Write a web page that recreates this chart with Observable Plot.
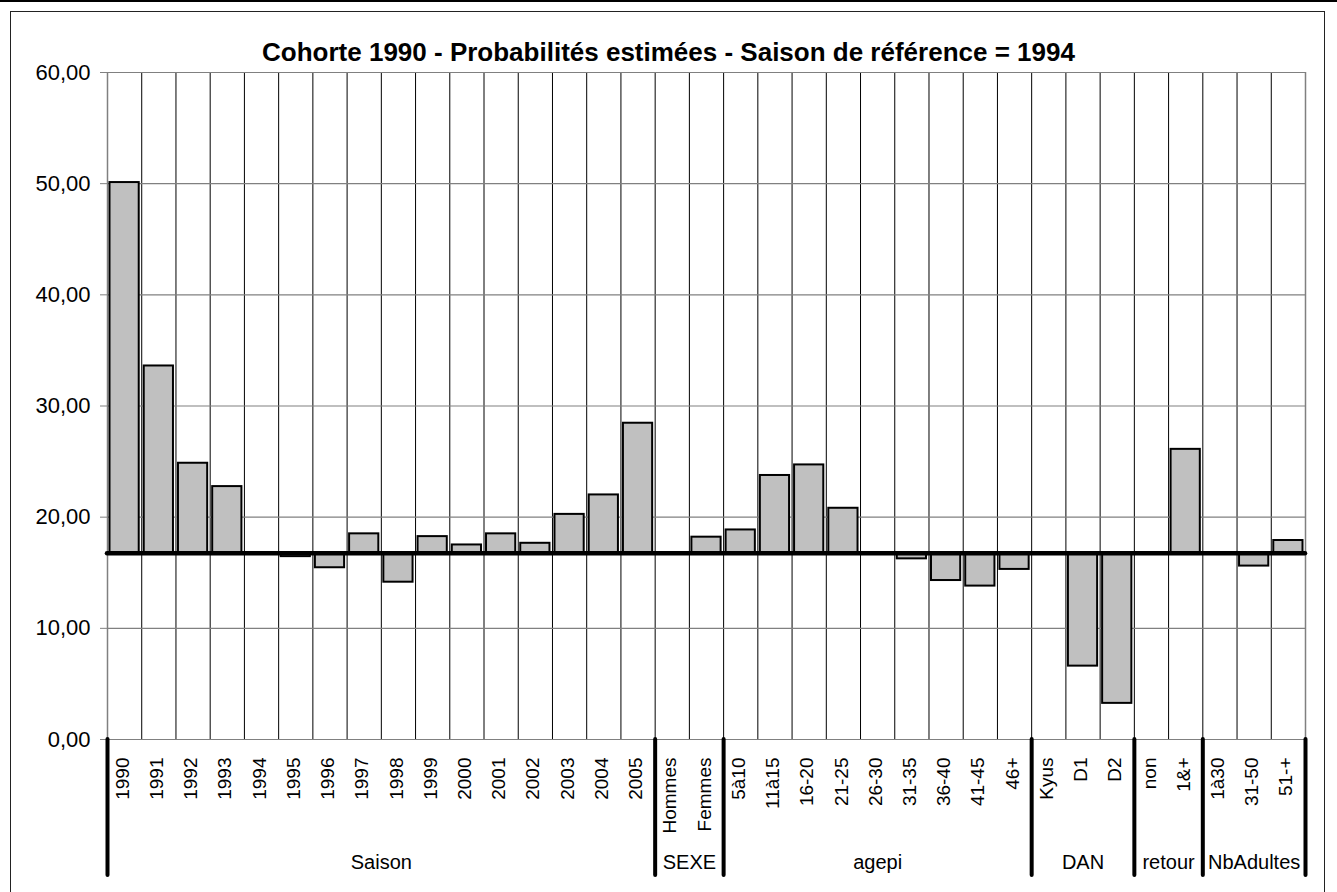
<!DOCTYPE html>
<html>
<head>
<meta charset="utf-8">
<script src="https://cdn.jsdelivr.net/npm/d3@7"></script>
<script src="https://cdn.jsdelivr.net/npm/@observablehq/plot@0.6"></script>
<style>
  html, body { margin: 0; padding: 0; background: #fff; }
  body { width: 1337px; height: 892px; overflow: hidden; position: relative; font-family: "Liberation Sans", Arial, sans-serif; }
  #topline { position: absolute; left: 0; top: 0; width: 1337px; height: 2px; background: #000; }
  #frame { position: absolute; left: 10px; top: 11px; width: 1315px; height: 900px; border: 1.5px solid #222; box-sizing: border-box; }
  #title { position: absolute; left: 0; top: 37px; width: 1337px; text-align: center; font-weight: bold; font-size: 26px; color: #000; line-height: 30px; }
  #chart { position: absolute; left: 0; top: 0; }
</style>
</head>
<body>
<div id="topline"></div>
<div id="frame"></div>
<div id="chart"></div>
<div id="title">Cohorte 1990 - Probabilités estimées - Saison de référence = 1994</div>
<script>
// ---- Data ----
const groupNames = ["Saison", "SEXE", "agepi", "DAN", "retour", "NbAdultes"];
const saisonCats = ["1990","1991","1992","1993","1994","1995","1996","1997","1998","1999","2000","2001","2002","2003","2004","2005"];
const saisonVals = [50.1, 33.6, 24.85, 22.75, 16.75, 16.45, 15.45, 18.5, 14.15, 18.25, 17.5, 18.5, 17.65, 20.25, 22.0, 28.45];
const sexeCats = ["Hommes","Femmes"];
const sexeVals = [16.75, 18.2];
const agepiCats = ["5à10","11à15","16-20","21-25","26-30","31-35","36-40","41-45","46+"];
const agepiVals = [18.85, 23.75, 24.7, 20.8, 16.75, 16.25, 14.3, 13.8, 15.3];
const danCats = ["Kyus","D1","D2"];
const danVals = [16.75, 6.6, 3.25];
const retourCats = ["non","1&+"];
const retourVals = [16.75, 26.1];
const nbAdultesCats = ["1à30","31-50","51-+"];
const nbAdultesVals = [16.75, 15.6, 17.9];
const referenceValue = 16.75;
const yTicks = [0, 10, 20, 30, 40, 50, 60];

// ---- Build table ----
const groupCats = [saisonCats, sexeCats, agepiCats, danCats, retourCats, nbAdultesCats];
const groupVals = [saisonVals, sexeVals, agepiVals, danVals, retourVals, nbAdultesVals];
const rows = [];
const groups = [];
let idx = 0;
groupCats.forEach((cats, g) => {
  const start = idx;
  cats.forEach((c, k) => { rows.push({i: idx, cat: c, value: groupVals[g][k], group: groupNames[g]}); idx++; });
  groups.push({name: groupNames[g], start, end: idx});
});
const n = rows.length;
const boundaries = [0, ...groups.map(g => g.end)];
const innerLines = d3.range(1, n);

// layout
const W = 1337, H = 892, mT = 72, mB = 153, mL = 107, mR = 32;
const yUnitPx = (H - mT - mB) / 60;
const sepBottom = -136 / yUnitPx; // separator depth below 0 in data units
const fmt = d => d3.format(".2f")(d).replace(".", ",");

const chart = Plot.plot({
  width: W, height: H,
  marginTop: mT, marginBottom: mB, marginLeft: mL, marginRight: mR,
  x: {type: "linear", domain: [0, n], axis: null},
  y: {domain: [0, 60], axis: null},
  style: {fontFamily: "'Liberation Sans', Arial, sans-serif", background: "transparent", overflow: "visible"},
  marks: [
    // vertical grid (category boundaries)
    Plot.ruleX(innerLines, {x: d => d, y1: 0, y2: 60, stroke: "#000", strokeWidth: 1}),
    // horizontal grid
    Plot.ruleY(yTicks, {y: d => d, x1: 0, x2: n, stroke: "#808080", strokeWidth: 1.2}),
    // frame sides
    Plot.ruleX([0, n], {x: d => d, y1: 0, y2: 60, stroke: "#808080", strokeWidth: 1.5}),
    // y ticks + labels
    Plot.axisY(yTicks, {label: null, tickSize: 7, tickPadding: 10, tickFormat: fmt, fontSize: 22, stroke: "#808080", fill: "#000"}),
    // bars
    Plot.rect(rows.filter(d => d.value !== referenceValue), {
      x1: d => d.i, x2: d => d.i + 1, y1: referenceValue, y2: "value",
      insetLeft: 2.5, insetRight: 2.5,
      fill: "#c0c0c0", stroke: "#000", strokeWidth: 2
    }),
    // reference line
    Plot.ruleY([referenceValue], {x1: 0, x2: n, stroke: "#000", strokeWidth: 4.5, strokeLinecap: "round"}),
    // group separators
    Plot.ruleX(boundaries, {x: d => d, y1: 0, y2: sepBottom, stroke: "#000", strokeWidth: 4, strokeLinecap: "round"}),
    // category labels
    Plot.text(rows, {x: d => d.i + 0.5, y: 0, text: "cat", rotate: -90, textAnchor: "end", dy: 18, dx: -2, fontSize: 19, fill: "#000"}),
    // group labels
    Plot.text(groups, {x: d => (d.start + d.end) / 2, y: 0, text: "name", dy: 123, fontSize: 20, fill: "#000"})
  ]
});
document.getElementById("chart").appendChild(chart);
</script>
</body>
</html>
